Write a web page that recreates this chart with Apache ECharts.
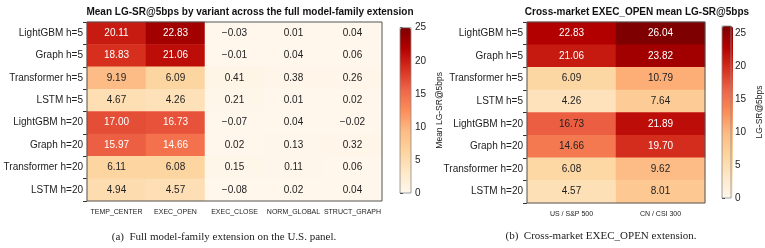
<!DOCTYPE html>
<html>
<head>
<meta charset="utf-8">
<script src="https://cdn.jsdelivr.net/npm/echarts@6/dist/echarts.min.js"></script>
<style>
  html, body { margin: 0; padding: 0; background: #fff; }
  #chart { width: 765px; height: 248px; }
</style>
</head>
<body>
<div id="chart"></div>
<script>
const rows = ['LightGBM h=5', 'Graph h=5', 'Transformer h=5', 'LSTM h=5',
  'LightGBM h=20', 'Graph h=20', 'Transformer h=20', 'LSTM h=20']
const variants = ['TEMP_CENTER', 'EXEC_OPEN', 'EXEC_CLOSE', 'NORM_GLOBAL', 'STRUCT_GRAPH']
const tempCenter = [20.11, 18.83, 9.19, 4.67, 17.00, 15.97, 6.11, 4.94]
const execOpen = [22.83, 21.06, 6.09, 4.26, 16.73, 14.66, 6.08, 4.57]
const execClose = [-0.03, -0.01, 0.41, 0.21, -0.07, 0.02, 0.15, -0.08]
const normGlobal = [0.01, 0.04, 0.38, 0.01, 0.04, 0.13, 0.11, 0.02]
const structGraph = [0.04, 0.06, 0.26, 0.02, -0.02, 0.32, 0.06, 0.04]

const markets = ['US / S&P 500', 'CN / CSI 300']
const usOpen = [22.83, 21.06, 6.09, 4.26, 16.73, 14.66, 6.08, 4.57]
const cnOpen = [26.04, 23.82, 10.79, 7.64, 21.89, 19.70, 9.62, 8.01]

const cbTicks = [0, 5, 10, 15, 20, 25]

// matplotlib OrRd
const orRd = ['#fff7ec', '#fee8c8', '#fdd49e', '#fdbb84', '#fc8d59', '#ef6548', '#d7301f', '#b30000', '#7f0000']

const fmt = v => v.toFixed(2).replace('-', '\u2212')

const buildCells = (cols, whiteAbove) => {
  const out = []
  cols.forEach((col, x) => {
    col.forEach((v, y) => {
      out.push({
        value: [x, y, v],
        label: { color: v >= whiteAbove ? '#ffffff' : '#222222' }
      })
    })
  })
  return out
}

const leftCells = buildCells([tempCenter, execOpen, execClose, normGlobal, structGraph], 14)
const rightCells = buildCells([usOpen, cnOpen], 19)

const tickFont = { fontFamily: 'Liberation Sans', fontSize: 10, color: '#222' }

const catY = (gridIndex) => ({
  type: 'category',
  gridIndex,
  data: rows,
  inverse: true,
  axisLine: { show: false },
  axisTick: { show: true, length: 4, lineStyle: { color: '#333' } },
  axisLabel: Object.assign({ margin: 4, interval: 0 }, tickFont),
  splitLine: { show: false }
})

const catX = (gridIndex, data) => ({
  type: 'category',
  gridIndex,
  data,
  axisLine: { show: false },
  axisTick: { show: false },
  axisLabel: Object.assign({}, tickFont, { fontSize: 7, margin: 8, interval: 0 }),
  splitLine: { show: false }
})

const cbY = (gridIndex, max, name, nameGap) => ({
  type: 'value',
  gridIndex,
  position: 'right',
  min: 0,
  max,
  name,
  nameLocation: 'middle',
  nameRotate: 90,
  nameGap,
  nameTextStyle: { fontFamily: 'Liberation Sans', fontSize: 8.5, color: '#222' },
  axisLine: { show: false },
  axisTick: { show: true, length: 3, lineStyle: { color: '#333' }, customValues: cbTicks },
  axisLabel: Object.assign({ margin: 4, customValues: cbTicks }, tickFont),
  splitLine: { show: false }
})

const cbX = (gridIndex) => ({ type: 'value', gridIndex, show: false, min: 0, max: 1 })

const heatLabel = { show: true, fontFamily: 'Liberation Sans', fontSize: 10, formatter: p => fmt(p.value[2]) }

const chart = echarts.init(document.getElementById('chart'), null, { renderer: 'canvas' })

chart.setOption({
  animation: false,
  backgroundColor: '#ffffff',
  grid: [
    { left: 87, top: 22, width: 295, height: 179, show: true, borderColor: '#555', borderWidth: 1, backgroundColor: 'transparent', z: 10 },
    { left: 400, top: 27.7, width: 11, height: 165.3, show: true, borderColor: '#888', borderWidth: 0.8, backgroundColor: 'transparent', z: 10 },
    { left: 527, top: 22, width: 178, height: 181, show: true, borderColor: '#555', borderWidth: 1, backgroundColor: 'transparent', z: 10 },
    { left: 722, top: 26, width: 11, height: 172, show: true, borderColor: '#888', borderWidth: 0.8, backgroundColor: 'transparent', z: 10 }
  ],
  xAxis: [catX(0, variants), cbX(1), catX(2, markets), cbX(3)],
  yAxis: [catY(0), cbY(1, 25, 'Mean LG-SR@5bps', 24), catY(2), cbY(3, 26.04, 'LG-SR@5bps', 24)],
  visualMap: [
    { type: 'continuous', seriesIndex: 0, min: 0, max: 25, calculable: false, showLabel: false, text: null,
      left: 400, top: 27.7, itemWidth: 11, itemHeight: 165.3, padding: 0, inRange: { color: orRd } },
    { type: 'continuous', seriesIndex: 1, min: 0, max: 26.04, calculable: false, showLabel: false, text: null,
      left: 722, top: 26, itemWidth: 11, itemHeight: 172, padding: 0, inRange: { color: orRd } }
  ],
  series: [
    { type: 'heatmap', xAxisIndex: 0, yAxisIndex: 0, data: leftCells, label: heatLabel, itemStyle: { borderWidth: 0 } },
    { type: 'heatmap', xAxisIndex: 2, yAxisIndex: 2, data: rightCells, label: heatLabel, itemStyle: { borderWidth: 0 } }
  ],
  graphic: [
    { type: 'text', x: 250, y: 12, style: { text: 'Mean LG-SR@5bps by variant across the full model-family extension', align: 'center', verticalAlign: 'middle', font: 'bold 10px "Liberation Sans"', fill: '#111' } },
    { type: 'text', x: 637, y: 12, style: { text: 'Cross-market EXEC_OPEN mean LG-SR@5bps', align: 'center', verticalAlign: 'middle', font: 'bold 10px "Liberation Sans"', fill: '#111' } },
    { type: 'text', x: 224, y: 237, style: { text: '(a)  Full model-family extension on the U.S. panel.', align: 'center', verticalAlign: 'middle', font: '11px "Liberation Serif"', fill: '#222' } },
    { type: 'text', x: 601, y: 236, style: { text: '(b)  Cross-market EXEC_OPEN extension.', align: 'center', verticalAlign: 'middle', font: '11px "Liberation Serif"', fill: '#222' } }
  ]
})
</script>
</body>
</html>
